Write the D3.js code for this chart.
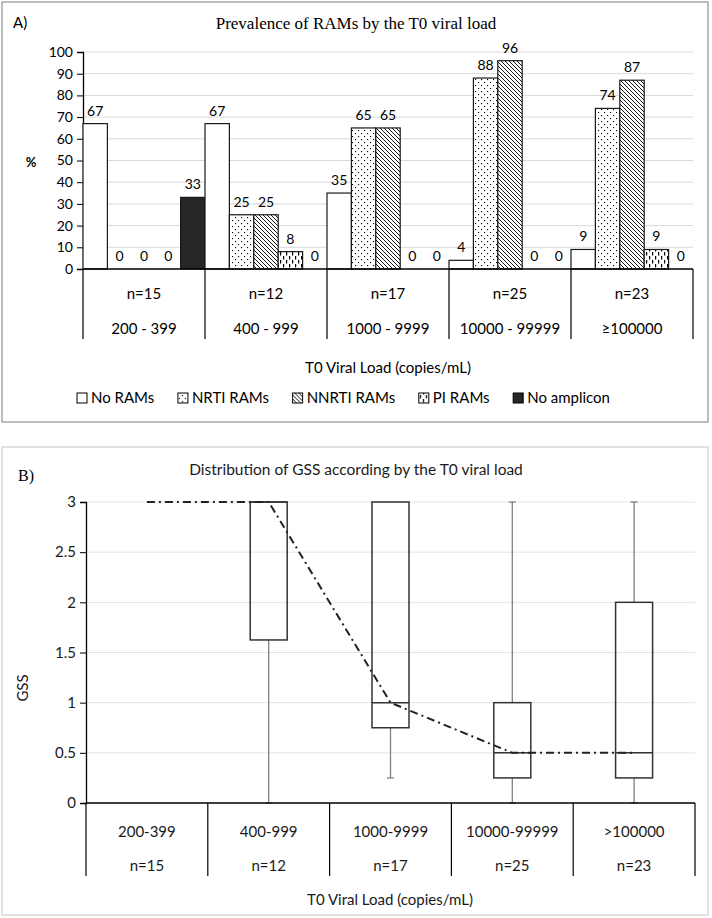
<!DOCTYPE html>
<html><head><meta charset="utf-8">
<script src="https://cdn.jsdelivr.net/npm/d3@7"></script>
<style>body{margin:0;background:#fff} svg{display:block}</style>
</head><body>
<svg id="c" width="712" height="918"></svg>
<script>
// ---------- Data: panel A ----------
const groupsA = ["200 - 399","400 - 999","1000 - 9999","10000 - 99999","\u2265100000"];
const countsA = ["n=15","n=12","n=17","n=25","n=23"];
const seriesNames = ["No RAMs","NRTI RAMs","NNRTI RAMs","PI RAMs","No amplicon"];
const noRAMs = [67,67,35,4,9];
const nrtiRAMs = [0,25,65,88,74];
const nnrtiRAMs = [0,25,65,96,87];
const piRAMs = [0,8,0,0,9];
const noAmplicon = [33,0,0,0,0];
const yTicksA = [0,10,20,30,40,50,60,70,80,90,100];

// ---------- Data: panel B ----------
const groupsB = ["200-399","400-999","1000-9999","10000-99999",">100000"];
const countsB = ["n=15","n=12","n=17","n=25","n=23"];
const gssMin    = [3,0,0.25,0,0];
const gssQ1     = [3,1.625,0.75,0.25,0.25];
const gssMedian = [3,3,1,0.5,0.5];
const gssQ3     = [3,3,3,1,2];
const gssMax    = [3,3,3,3,3];
const yTicksB = [0,0.5,1,1.5,2,2.5,3];

const SANS = "Lato, 'Open Sans', sans-serif";
const SERIF = "'Liberation Serif', 'DejaVu Serif', serif";
const svg = d3.select("#c");
const defs = svg.append("defs");

// patterns
const pDot = defs.append("pattern").attr("id","pNRTI").attr("patternUnits","userSpaceOnUse").attr("width",6).attr("height",6);
pDot.append("rect").attr("width",6).attr("height",6).attr("fill","#fff");
pDot.append("rect").attr("x",1).attr("y",1).attr("width",1.1).attr("height",1.1).attr("fill","#000");
pDot.append("rect").attr("x",4).attr("y",4).attr("width",1.1).attr("height",1.1).attr("fill","#000");

const pDiag = defs.append("pattern").attr("id","pNNRTI").attr("patternUnits","userSpaceOnUse").attr("width",4).attr("height",4);
pDiag.append("rect").attr("width",4).attr("height",4).attr("fill","#fff");
pDiag.append("path").attr("d","M-1,-1 L5,5 M3,-1 L5,1 M-1,3 L1,5").attr("stroke","#000").attr("stroke-width",0.9);

const pDash = defs.append("pattern").attr("id","pPI").attr("patternUnits","userSpaceOnUse").attr("width",6).attr("height",8);
pDash.append("rect").attr("width",6).attr("height",8).attr("fill","#fff");
pDash.append("rect").attr("x",1).attr("y",0).attr("width",1.2).attr("height",3.5).attr("fill","#000");
pDash.append("rect").attr("x",4).attr("y",4).attr("width",1.2).attr("height",3.5).attr("fill","#000");

const fills = ["#ffffff","url(#pNRTI)","url(#pNNRTI)","url(#pPI)","#262626"];
const seriesVals = [noRAMs,nrtiRAMs,nnrtiRAMs,piRAMs,noAmplicon];

// ---------- Panel A frame ----------
svg.append("rect").attr("x",2).attr("y",2).attr("width",706).attr("height",420)
  .attr("fill","#fff").attr("stroke","#a6a6a6").attr("stroke-width",1.5);
svg.append("text").attr("x",13).attr("y",28).attr("font-family",SANS).attr("font-size",15).attr("fill","#000").text("A)");
svg.append("text").attr("x",356).attr("y",29).attr("text-anchor","middle").attr("font-family",SERIF).attr("font-size",17).attr("fill","#000")
  .text("Prevalence of RAMs by the T0 viral load");

const xA = d3.scaleBand().domain(groupsA).range([83,693]).padding(0);
const xAin = d3.scaleBand().domain(seriesNames).range([0,xA.bandwidth()]).padding(0);
const yA = d3.scaleLinear().domain([0,100]).range([269,52]);

// gridlines
svg.append("g").selectAll("line").data(yTicksA.filter(d=>d>0)).join("line")
  .attr("x1",83).attr("x2",693).attr("y1",d=>yA(d)).attr("y2",d=>yA(d))
  .attr("stroke","#d9d9d9").attr("stroke-width",1);

// y axis
const gyA = svg.append("g").attr("transform","translate(83,0)")
  .call(d3.axisLeft(yA).tickValues(yTicksA).tickSize(6).tickPadding(4));
gyA.select(".domain").attr("stroke","#000").attr("stroke-width",1.3);
gyA.selectAll(".tick line").attr("stroke","#000");
gyA.selectAll(".tick text").attr("font-family",SANS).attr("font-size",14).attr("fill","#000");
svg.append("text").attr("x",31).attr("y",167).attr("text-anchor","middle").attr("font-family",SANS)
  .attr("font-weight","bold").attr("font-size",13).text("%");

// bars
const barData = [];
groupsA.forEach((g,gi)=>seriesNames.forEach((s,si)=>barData.push({g,s,si,v:seriesVals[si][gi]})));
const bars = svg.append("g");
bars.selectAll("rect").data(barData.filter(d=>d.v>0)).join("rect")
  .attr("x",d=>xA(d.g)+xAin(d.s)).attr("width",xAin.bandwidth())
  .attr("y",d=>yA(d.v)).attr("height",d=>yA(0)-yA(d.v))
  .attr("fill",d=>fills[d.si]).attr("stroke","#1a1a1a").attr("stroke-width",1.2);
bars.selectAll("text").data(barData).join("text")
  .attr("x",d=>xA(d.g)+xAin(d.s)+xAin.bandwidth()/2).attr("y",d=>yA(d.v)-8)
  .attr("text-anchor","middle").attr("font-family",SANS).attr("font-size",14).attr("fill","#000")
  .text(d=>d.v);

// category table
svg.append("line").attr("x1",83).attr("x2",693).attr("y1",269).attr("y2",269).attr("stroke","#000").attr("stroke-width",1.5);
const bndA = groupsA.map(g=>xA(g)).concat([693]);
svg.append("g").selectAll("line").data(bndA).join("line")
  .attr("x1",d=>d).attr("x2",d=>d).attr("y1",269).attr("y2",339).attr("stroke","#000").attr("stroke-width",1.2);
svg.append("g").selectAll("text").data(countsA).join("text")
  .attr("x",(d,i)=>xA(groupsA[i])+xA.bandwidth()/2).attr("y",299).attr("text-anchor","middle")
  .attr("font-family",SANS).attr("font-size",15).text(d=>d);
svg.append("g").selectAll("text").data(groupsA).join("text")
  .attr("x",d=>xA(d)+xA.bandwidth()/2).attr("y",334).attr("text-anchor","middle")
  .attr("font-family",SANS).attr("font-size",15).text(d=>d);
svg.append("text").attr("x",388).attr("y",373).attr("text-anchor","middle").attr("font-family",SANS).attr("font-size",15)
  .text("T0 Viral Load (copies/mL)");

// legend
const leg = svg.append("g");
const items = seriesNames.map((s,i)=>{
  const g = leg.append("g");
  g.append("rect").attr("x",0).attr("y",-10).attr("width",10).attr("height",10).attr("fill",fills[i]).attr("stroke","#000").attr("stroke-width",1);
  const t = g.append("text").attr("x",14).attr("y",0).attr("font-family",SANS).attr("font-size",15).text(s);
  return {g, w: 14 + t.node().getComputedTextLength()};
});
const legStart = 77, legEnd = 610;
const totalW = d3.sum(items,d=>d.w);
const gap = (legEnd-legStart-totalW)/(items.length-1);
let lx = legStart;
items.forEach(it=>{ it.g.attr("transform",`translate(${lx},403)`); lx += it.w + gap; });

// ---------- Panel B frame ----------
svg.append("rect").attr("x",2).attr("y",447).attr("width",706).attr("height",468)
  .attr("fill","#fff").attr("stroke","#d9d9d9").attr("stroke-width",1.5);
svg.append("text").attr("x",18).attr("y",481).attr("font-family",SERIF).attr("font-size",16).attr("fill","#000").text("B)");
svg.append("text").attr("x",356).attr("y",475).attr("text-anchor","middle").attr("font-family",SANS).attr("font-size",15.5).attr("fill","#1a1a1a")
  .text("Distribution of GSS according by the T0 viral load");

const xB = d3.scaleBand().domain(groupsB).range([86,695]).padding(0);
const yB = d3.scaleLinear().domain([0,3]).range([803,502]);

svg.append("g").selectAll("line").data(yTicksB.filter(d=>d>0)).join("line")
  .attr("x1",86).attr("x2",695).attr("y1",d=>yB(d)).attr("y2",d=>yB(d))
  .attr("stroke","#e3e3e3").attr("stroke-width",1);

const gyB = svg.append("g").attr("transform","translate(86,0)")
  .call(d3.axisLeft(yB).tickValues(yTicksB).tickFormat(d3.format("")).tickSize(6).tickPadding(4));
gyB.select(".domain").attr("stroke","#000").attr("stroke-width",1.3);
gyB.selectAll(".tick line").attr("stroke","#000");
gyB.selectAll(".tick text").attr("font-family",SANS).attr("font-size",15).attr("fill","#1a1a1a");
svg.append("text").attr("transform","translate(28,688) rotate(-90)").attr("text-anchor","middle")
  .attr("font-family",SANS).attr("font-size",15).attr("fill","#1a1a1a").text("GSS");

// boxes
const boxW = 37, capW = 7;
const boxes = svg.append("g");
groupsB.forEach((g,i)=>{
  const cx = xB(g)+xB.bandwidth()/2;
  if (gssQ1[i] > gssMin[i]) {
    boxes.append("line").attr("x1",cx).attr("x2",cx).attr("y1",yB(gssQ1[i])).attr("y2",yB(gssMin[i])).attr("stroke","#808080").attr("stroke-width",1.3);
    boxes.append("line").attr("x1",cx-capW/2).attr("x2",cx+capW/2).attr("y1",yB(gssMin[i])).attr("y2",yB(gssMin[i])).attr("stroke","#808080").attr("stroke-width",1.3);
  }
  if (gssMax[i] > gssQ3[i]) {
    boxes.append("line").attr("x1",cx).attr("x2",cx).attr("y1",yB(gssQ3[i])).attr("y2",yB(gssMax[i])).attr("stroke","#808080").attr("stroke-width",1.3);
    boxes.append("line").attr("x1",cx-capW/2).attr("x2",cx+capW/2).attr("y1",yB(gssMax[i])).attr("y2",yB(gssMax[i])).attr("stroke","#808080").attr("stroke-width",1.3);
  }
  if (gssQ3[i] > gssQ1[i]) {
    boxes.append("rect").attr("x",cx-boxW/2).attr("width",boxW).attr("y",yB(gssQ3[i])).attr("height",yB(gssQ1[i])-yB(gssQ3[i]))
      .attr("fill","none").attr("stroke","#333").attr("stroke-width",1.5);
    boxes.append("line").attr("x1",cx-boxW/2).attr("x2",cx+boxW/2).attr("y1",yB(gssMedian[i])).attr("y2",yB(gssMedian[i]))
      .attr("stroke","#333").attr("stroke-width",1.5);
  }
});

// median trend line (dash-dot)
const lineGen = d3.line().x((d,i)=>xB(groupsB[i])+xB.bandwidth()/2).y(d=>yB(d));
svg.append("path").attr("d",lineGen(gssMedian)).attr("fill","none").attr("stroke","#222")
  .attr("stroke-width",2).attr("stroke-dasharray","8,4,2,4");

// category table B
svg.append("line").attr("x1",86).attr("x2",695).attr("y1",803).attr("y2",803).attr("stroke","#000").attr("stroke-width",1.5);
const bndB = groupsB.map(g=>xB(g)).concat([695]);
svg.append("g").selectAll("line").data(bndB).join("line")
  .attr("x1",d=>d).attr("x2",d=>d).attr("y1",803).attr("y2",876).attr("stroke","#000").attr("stroke-width",1.2);
svg.append("g").selectAll("text").data(groupsB).join("text")
  .attr("x",d=>xB(d)+xB.bandwidth()/2).attr("y",837).attr("text-anchor","middle")
  .attr("font-family",SANS).attr("font-size",15).attr("fill","#1a1a1a").text(d=>d);
svg.append("g").selectAll("text").data(countsB).join("text")
  .attr("x",(d,i)=>xB(groupsB[i])+xB.bandwidth()/2).attr("y",871).attr("text-anchor","middle")
  .attr("font-family",SANS).attr("font-size",15).attr("fill","#1a1a1a").text(d=>d);
svg.append("text").attr("x",390).attr("y",905).attr("text-anchor","middle").attr("font-family",SANS).attr("font-size",15)
  .attr("fill","#1a1a1a").text("T0 Viral Load (copies/mL)");
</script>
</body></html>
